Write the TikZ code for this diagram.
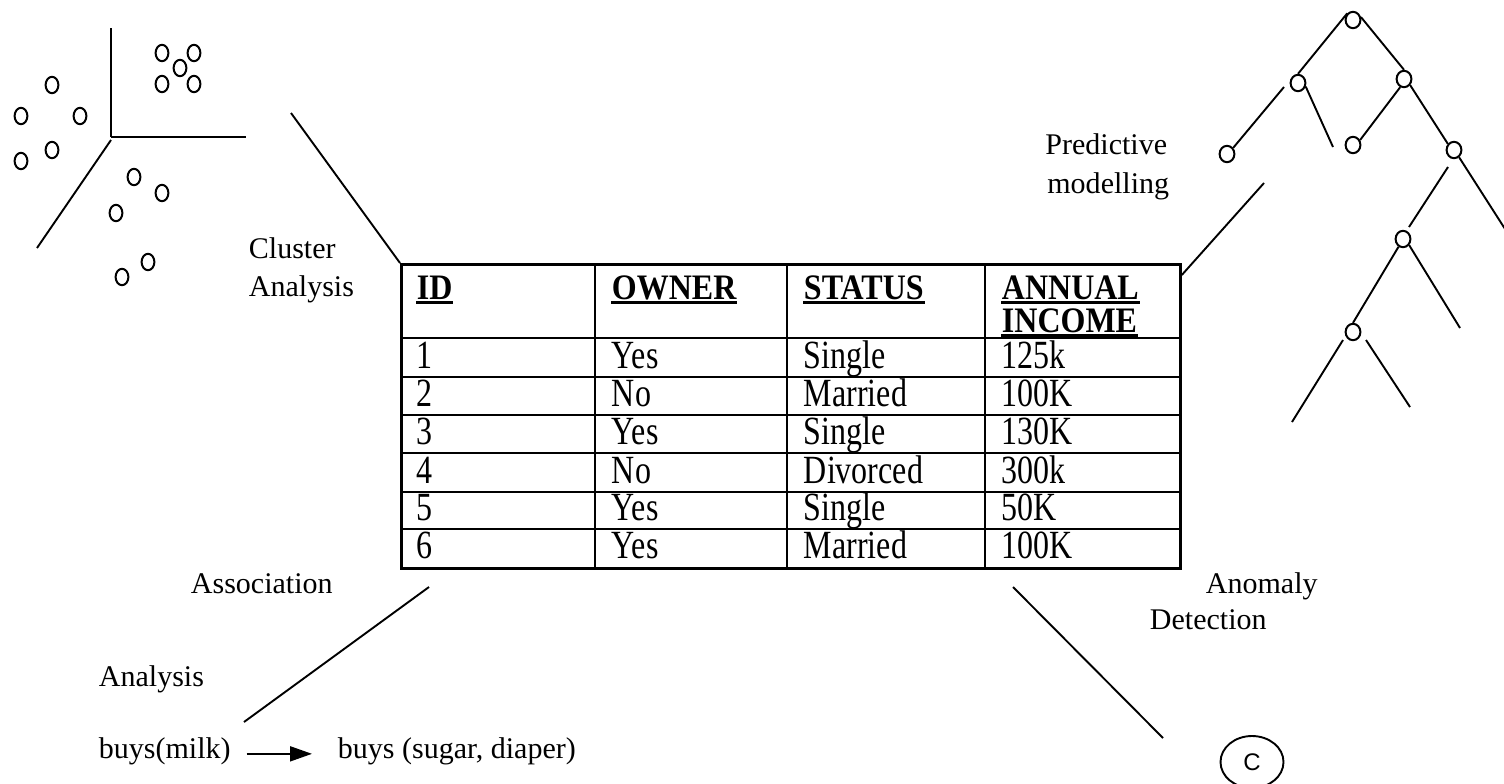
\documentclass[tikz,border=0pt]{standalone}
\usepackage{fontspec}
\setmainfont{Liberation Serif}
\setsansfont{Liberation Sans}
\usepackage{graphicx}
\usetikzlibrary{arrows.meta,calc,positioning,shapes.geometric}
\newcommand{\tallcell}[1]{\scalebox{1}[1.25]{#1}}
\newcommand{\tallhead}[1]{\scalebox{1}[1.12]{#1}}

\begin{document}
\begin{tikzpicture}[x=0.5pt, y=-0.5pt, line width=0.95pt,
    lbl/.style={font=\fontsize{15}{18}\selectfont, inner sep=0pt, anchor=base west},
    cell/.style={font=\fontsize{16}{19}\selectfont, inner sep=0pt, anchor=base west},
    head/.style={cell, font=\fontsize{16}{19}\selectfont\bfseries},
    uline/.style={line width=1.3pt},
    dot/.style={draw, ellipse, line width=1pt, minimum width=6.4pt, minimum height=8.2pt, inner sep=0pt},
    knot/.style={draw, ellipse, line width=1pt, minimum width=7.4pt, minimum height=8.2pt, inner sep=0pt}]
    \useasboundingbox (0,0) rectangle (1504,783);

    % Cluster axes
    \coordinate (ax0) at (111,137);
    \draw (ax0) -- (111,28);
    \draw (ax0) -- (246,137);
    \draw (111,140) -- (37,248);

    % Cluster points
    \foreach \px/\py [count=\i] in {162/53, 194/53, 180/68, 162/84, 194/84,
        52/85, 21/116, 80/116, 52/150, 21/161,
        134/177, 162/193, 116/213, 148/262, 122/277}
        \node[dot] (pt\i) at (\px,\py) {};

    % Cluster label
    \node[lbl] (clu1) at (248,258) {Cluster};
    \node[lbl] (clu2) at (248,296) {Analysis};

    % Data table
    \node[draw, line width=1.4pt, anchor=north west, inner sep=0pt,
          minimum width=389.5pt, minimum height=152pt] (tbl) at (400,263) {};
    \foreach \ry in {338,377,415,453,492,529}
        \draw[line width=1.4pt] (tbl.west |- 0,\ry) -- (tbl.east |- 0,\ry);
    \foreach \cx in {595,787,985}
        \draw[line width=1.4pt] (tbl.north -| \cx,0) -- (tbl.south -| \cx,0);

    % Table header
    \node[head] (hID) at (416,299) {\tallhead{ID}};
    \node[head] (hOW) at (611,299) {\tallhead{OWNER}};
    \node[head] (hST) at (803,299) {\tallhead{STATUS}};
    \node[head] (hAN) at (1001,299) {\tallhead{ANNUAL}};
    \node[head] (hIN) at (1001,332) {\tallhead{INCOME}};
    \foreach \h in {hID,hOW,hST,hAN,hIN}
        \draw[uline] ([yshift=-1.8pt]\h.base west) -- ([yshift=-1.8pt]\h.base east);

    % Table rows
    \foreach \id/\own/\sta/\inc/\by in {1/Yes/Single/125k/368, 2/No/Married/100K/406,
        3/Yes/Single/130K/444, 4/No/Divorced/300k/483, 5/Yes/Single/50K/520,
        6/Yes/Married/100K/558} {
        \node[cell] (id\id) at (416,\by) {\tallcell{\id}};
        \node[cell] (ow\id) at (611,\by) {\tallcell{\own}};
        \node[cell] (st\id) at (803,\by) {\tallcell{\sta}};
        \node[cell] (in\id) at (1001,\by) {\tallcell{\inc}};
    }

    % Connector to cluster analysis
    \coordinate (clA) at (291,113);
    \draw (clA) -- (tbl.north west);

    % Predictive modelling
    \node[lbl, anchor=base east] (pm1) at (1168,154) {Predictive};
    \node[lbl, anchor=base east] (pm2) at (1170,193) {modelling};
    \coordinate (pmA) at (1264,183);
    \draw ([yshift=-6pt]tbl.north east) -- (pmA);

    % Decision tree
    \node[knot] (r) at (1353,20) {};
    \node[knot] (a) at (1298,83) {};
    \node[knot] (b) at (1404,79) {};
    \node[knot] (aL) at (1227,154) {};
    \node[knot] (bL) at (1353,145) {};
    \node[knot] (c) at (1454,150) {};
    \node[knot] (d) at (1403,239) {};
    \node[knot] (e) at (1353,332) {};
    \draw (r.130) -- (a.north);
    \draw (r.20) -- (b.north);
    \draw (1284,87) -- (aL.45);
    \draw (a.-25) -- (1333,147);
    \draw (b.-115) -- (bL.35);
    \draw (b.-45) -- (c.135);
    \draw (1448,167) -- (1409,227);
    \draw (c.-55) -- (1514,243);
    \draw (d.-120) -- (e.north);
    \draw (d.-45) -- (1460,328);
    \draw (1343,340) -- (1292,422);
    \draw (1366,340) -- (1410,407);

    % Association analysis
    \node[lbl] (as1) at (190,593) {Association};
    \node[lbl] (as2) at (98,686) {Analysis};
    \coordinate (asA) at (429,587);
    \coordinate (asB) at (244,722);
    \draw (asA) -- (asB);
    \node[lbl] (bm) at (98,758) {buys(milk)};
    \node[lbl] (bs) at (337,758) {buys (sugar, diaper)};
    \draw[-{Triangle[length=11pt,width=7.5pt]}] ([xshift=7.5pt,yshift=-1.5pt]bm.east) -- ([xshift=-12.5pt,yshift=-1.5pt]bm.east -| bs.west);

    % Anomaly detection
    \node[lbl] (ad1) at (1205,593) {Anomaly};
    \node[lbl] (ad2) at (1149,629) {Detection};
    \coordinate (adA) at (1013,587);
    \coordinate (adB) at (1163,738);
    \draw (adA) -- (adB);
    \node[draw, ellipse, inner sep=0pt, minimum width=31.5pt, minimum height=26pt,
          font=\sffamily\fontsize{12}{14}\selectfont] (outl) at (1252,762) {C};

\end{tikzpicture}
\end{document}
